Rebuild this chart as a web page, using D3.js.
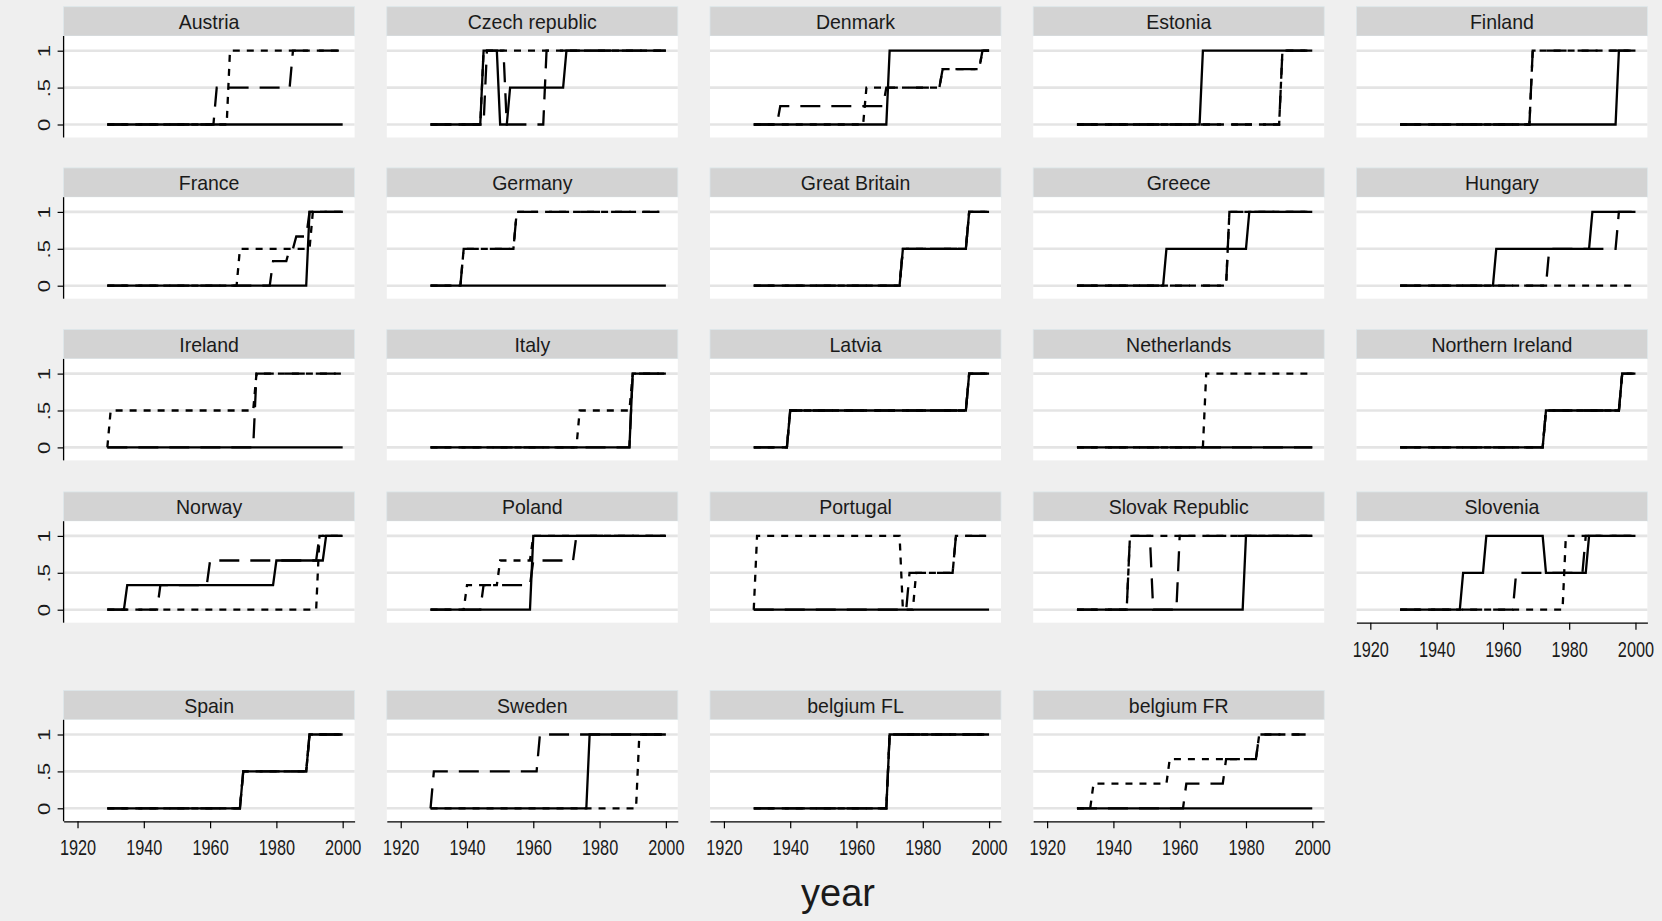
<!DOCTYPE html>
<html>
<head>
<meta charset="utf-8">
<script src="https://cdn.jsdelivr.net/npm/d3@7"></script>
<style>
  body { margin: 0; background: #efefef; }
  svg { display: block; }
</style>
</head>
<body>
<svg id="chart" width="1662" height="921"></svg>
<script>
// Panels, in reading order (five per row)
const countries = [
  "Austria", "Czech republic", "Denmark", "Estonia", "Finland",
  "France", "Germany", "Great Britain", "Greece", "Hungary",
  "Ireland", "Italy", "Latvia", "Netherlands", "Northern Ireland",
  "Norway", "Poland", "Portugal", "Slovak Republic", "Slovenia",
  "Spain", "Sweden", "belgium FL", "belgium FR"
];

// Each series is a list of [year, value]: the value holds from that year on,
// the last entry marks where the series ends.
const solidSteps = [
  [[1929,0],[2000,0]],                                            // Austria
  [[1929,0],[1945,1],[1950,0],[1953,.5],[1970,1],[2000,1]],       // Czech republic
  [[1929,0],[1970,1],[2000,1]],                                   // Denmark
  [[1929,0],[1967,1],[2000,1]],                                   // Estonia
  [[1929,0],[1995,1],[2000,1]],                                   // Finland
  [[1929,0],[1990,1],[2000,1]],                                   // France
  [[1929,0],[2000,0]],                                            // Germany
  [[1929,0],[1974,.5],[1994,1],[2000,1]],                         // Great Britain
  [[1929,0],[1956,.5],[1981,1],[2000,1]],                         // Greece
  [[1929,0],[1958,.5],[1987,1],[2000,1]],                         // Hungary
  [[1929,0],[2000,0]],                                            // Ireland
  [[1929,0],[1990,1],[2000,1]],                                   // Italy
  [[1929,0],[1940,.5],[1994,1],[2000,1]],                         // Latvia
  [[1929,0],[2000,0]],                                            // Netherlands
  [[1929,0],[1973,.5],[1996,1],[2000,1]],                         // Northern Ireland
  [[1929,0],[1935,.333],[1980,.667],[1995,1],[2000,1]],           // Norway
  [[1929,0],[1960,1],[2000,1]],                                   // Poland
  [[1929,0],[2000,0]],                                            // Portugal
  [[1929,0],[1980,1],[2000,1]],                                   // Slovak Republic
  [[1929,0],[1948,.5],[1955,1],[1973,.5],[1986,1],[2000,1]],      // Slovenia
  [[1929,0],[1970,.5],[1990,1],[2000,1]],                         // Spain
  [[1929,0],[1977,1],[2000,1]],                                   // Sweden
  [[1929,0],[1970,1],[2000,1]],                                   // belgium FL
  [[1929,0],[2000,0]]                                             // belgium FR
];

const longDashSteps = [
  [[1929,0],[1962,.5],[1985,1],[2000,1]],                         // Austria
  [[1929,0],[1946,1],[1952,0],[1964,1],[2000,1]],                 // Czech republic
  [[1929,0],[1937,.25],[1969,.5],[1986,.75],[1998,1],[2000,1]],   // Denmark
  [[1929,0],[1991,1],[2000,1]],                                   // Estonia
  [[1929,0],[1969,1],[2000,1]],                                   // Finland
  [[1929,0],[1979,.333],[1984,.5],[1986,.667],[1990,1],[2000,1]], // France
  [[1929,0],[1939,.5],[1955,1],[1998,1]],                         // Germany
  [[1929,0],[1974,.5],[1994,1],[2000,1]],                         // Great Britain
  [[1929,0],[1975,1],[2000,1]],                                   // Greece
  [[1929,0],[1974,.5],[1995,1],[2000,1]],                         // Hungary
  [[1929,0],[1974,1],[2000,1]],                                   // Ireland
  [[1929,0],[1990,1],[2000,1]],                                   // Italy
  [[1929,0],[1940,.5],[1994,1],[2000,1]],                         // Latvia
  [[1929,0],[2000,0]],                                            // Netherlands
  [[1929,0],[1973,.5],[1996,1],[2000,1]],                         // Northern Ireland
  [[1929,0],[1945,.333],[1960,.667],[1993,1],[2000,1]],           // Norway
  [[1929,0],[1945,.333],[1960,.667],[1973,1],[2000,1]],           // Poland
  [[1929,0],[1976,.5],[1990,1],[2000,1]],                         // Portugal
  [[1929,0],[1945,1],[1952,0],[1960,1],[2000,1]],                 // Slovak Republic
  [[1929,0],[1964,.5],[1985,1],[2000,1]],                         // Slovenia
  [[1929,0],[1970,.5],[1990,1],[2000,1]],                         // Spain
  [[1929,0],[1930,.5],[1962,1],[2000,1]],                         // Sweden
  [[1929,0],[1970,1],[2000,1]],                                   // belgium FL
  [[1929,0],[1962,.333],[1974,.667],[1984,1],[1998,1]]            // belgium FR
];

const shortDashSteps = [
  [[1929,0],[1966,1],[2000,1]],                                   // Austria
  [[1929,0],[1945,1],[2000,1]],                                   // Czech republic
  [[1929,0],[1963,.5],[1986,.75],[1998,1],[2000,1]],              // Denmark
  [[1929,0],[1991,1],[2000,1]],                                   // Estonia
  [[1929,0],[1969,1],[2000,1]],                                   // Finland
  [[1929,0],[1969,.5],[1991,1],[2000,1]],                         // France
  [[1929,0],[1939,.5],[1955,1],[1998,1]],                         // Germany
  [[1929,0],[1974,.5],[1994,1],[2000,1]],                         // Great Britain
  [[1929,0],[1975,1],[2000,1]],                                   // Greece
  [[1929,0],[2000,0]],                                            // Hungary
  [[1929,0],[1930,.5],[1974,1],[2000,1]],                         // Ireland
  [[1929,0],[1974,.5],[1990,1],[2000,1]],                         // Italy
  [[1929,0],[1940,.5],[1994,1],[2000,1]],                         // Latvia
  [[1929,0],[1968,1],[2000,1]],                                   // Netherlands
  [[1929,0],[1973,.5],[1996,1],[2000,1]],                         // Northern Ireland
  [[1929,0],[1993,1],[2000,1]],                                   // Norway
  [[1929,0],[1940,.333],[1950,.667],[1960,1],[2000,1]],           // Poland
  [[1929,0],[1930,1],[1974,0],[1978,.5],[1990,1],[2000,1]],       // Portugal
  [[1929,0],[1945,1],[2000,1]],                                   // Slovak Republic
  [[1929,0],[1979,1],[2000,1]],                                   // Slovenia
  [[1929,0],[1970,.5],[1990,1],[2000,1]],                         // Spain
  [[1929,0],[1992,1],[2000,1]],                                   // Sweden
  [[1929,0],[1970,1],[2000,1]],                                   // belgium FL
  [[1929,0],[1934,.333],[1957,.667],[1984,1],[1998,1]]            // belgium FR
];

const yearTicks = [1920, 1940, 1960, 1980, 2000];
const shareTicks = [0, 0.5, 1];
const shareTickLabels = ["0", ".5", "1"];
const xTitle = "year";

// ---- layout ----
const FONT = "'Liberation Sans', Arial, Helvetica, sans-serif";
const nCols = 5;
const panelLeft0 = 63.6, colPitch = 323.2, panelW = 291;
const headerTops = [6.7, 167.9, 329.6, 491.9, 690.5];
const headerH = 29.3;
const plotH = 101.5;

const x = d3.scaleLinear().domain([1915.8, 2003.6]).range([0, panelW]);
const y = d3.scaleLinear().domain([0, 1]).range([88.5, 14.7]);

const seriesDefs = [
  { steps: solidSteps,     dash: null },
  { steps: longDashSteps,  dash: "20,11" },
  { steps: shortDashSteps, dash: "7,7" }
];

// annual values joined point to point: each change rises over one year
function stepVertices(steps) {
  const pts = [steps[0]];
  for (let i = 1; i < steps.length; i++) {
    const [yr, v] = steps[i];
    const prev = pts[pts.length - 1];
    if (v !== prev[1]) {
      if (yr - 1 > prev[0]) pts.push([yr - 1, prev[1]]);
      pts.push([yr, v]);
    } else {
      pts.push([yr, v]);
    }
  }
  return pts;
}

const line = d3.line().x(d => x(d[0])).y(d => y(d[1]));

const svg = d3.select("#chart");
svg.append("rect").attr("width", 1662).attr("height", 921).attr("fill", "#efefef");

countries.forEach((name, i) => {
  const row = Math.floor(i / nCols), col = i % nCols;
  const left = panelLeft0 + col * colPitch;
  const top = headerTops[row];
  const g = svg.append("g").attr("transform", `translate(${left},${top})`);

  // strip with the panel name
  g.append("rect").attr("width", panelW).attr("height", headerH)
    .attr("fill", "#d3d3d3").attr("stroke", "#dce7ea").attr("stroke-width", 0.8);
  g.append("text")
    .attr("transform", `translate(${panelW / 2},${headerH / 2 + 7.6}) scale(0.93,1)`)
    .attr("text-anchor", "middle")
    .attr("font-family", FONT).attr("font-size", 21).attr("fill", "#1a1a1a")
    .text(name);

  const p = g.append("g").attr("transform", `translate(0,${headerH})`);
  p.append("rect").attr("width", panelW).attr("height", plotH).attr("fill", "#ffffff");

  // horizontal grid
  p.selectAll("line.grid").data(shareTicks).join("line")
    .attr("class", "grid")
    .attr("x1", 0).attr("x2", panelW)
    .attr("y1", d => y(d)).attr("y2", d => y(d))
    .attr("stroke", "#e4e4e4").attr("stroke-width", 2.6);

  // three step series
  seriesDefs.forEach(s => {
    p.append("path")
      .attr("d", line(stepVertices(s.steps[i])))
      .attr("fill", "none").attr("stroke", "#000")
      .attr("stroke-width", 2.3)
      .attr("stroke-dasharray", s.dash)
      .attr("stroke-linejoin", "miter");
  });

  // y axis on the first column
  if (col === 0) {
    const ya = p.append("g")
      .call(d3.axisLeft(y).tickValues(shareTicks)
        .tickFormat((d, k) => shareTickLabels[k]).tickSize(6).tickSizeOuter(0));
    ya.select(".domain").remove();
    ya.selectAll(".tick line").attr("stroke", "#000").attr("stroke-width", 1.2);
    ya.selectAll(".tick text")
      .attr("x", 0).attr("y", 0).attr("dy", "0.36em")
      .attr("text-anchor", "middle")
      .attr("transform", "translate(-20.1,0) scale(0.78,1) rotate(-90)")
      .attr("font-family", FONT).attr("font-size", 22).attr("fill", "#1a1a1a");
    p.append("line").attr("x1", 0).attr("x2", 0).attr("y1", 0).attr("y2", plotH)
      .attr("stroke", "#000").attr("stroke-width", 1.3);
  }

  // x axis where no panel sits below
  if (i + nCols >= countries.length) {
    const xa = p.append("g").attr("transform", `translate(0,${plotH})`)
      .call(d3.axisBottom(x).tickValues(yearTicks).tickFormat(d3.format("d"))
        .tickSize(7).tickSizeOuter(0));
    xa.select(".domain").attr("stroke", "#000").attr("stroke-width", 1.3);
    xa.selectAll(".tick line").attr("stroke", "#000").attr("stroke-width", 1.2);
    xa.selectAll(".tick text")
      .attr("y", 34).attr("dy", null)
      .attr("transform", "scale(0.74,1)")
      .attr("font-family", FONT).attr("font-size", 22).attr("fill", "#1a1a1a");
  }
});

svg.append("text")
  .attr("x", 838).attr("y", 906)
  .attr("text-anchor", "middle")
  .attr("font-family", FONT).attr("font-size", 38).attr("fill", "#1a1a1a")
  .text(xTitle);
</script>
</body>
</html>
